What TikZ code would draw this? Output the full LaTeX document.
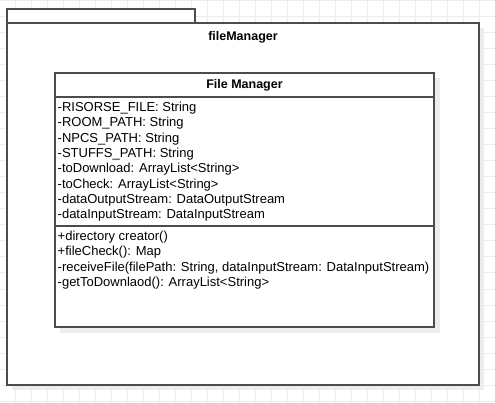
\documentclass[tikz,border=0pt]{standalone}
\usepackage{fontspec}
\setmainfont{Liberation Sans}
\usetikzlibrary{positioning}
\pgfdeclarelayer{gridlayer}
\pgfdeclarelayer{shadowlayer}
\pgfsetlayers{gridlayer, shadowlayer, main}

\tikzset{
  gridline/.style={draw=black!7, line width=1pt},
  shade box/.style={fill=black!7, draw=none},
  pkgbox/.style={draw=black!70, fill=white, line width=1.3pt, inner sep=0pt, outer sep=0pt},
  classbox/.style={draw=black!70, fill=white, line width=1.3pt, inner sep=0pt, outer sep=0pt, minimum width=379pt},
  member/.style={anchor=north west, align=left, inner sep=0pt, font=\fontsize{13}{15.3}\selectfont}
}

\begin{document}
\begin{tikzpicture}[x=1pt, y=-1pt]
    \useasboundingbox (0,0) rectangle (495,403);
	\begin{pgfonlayer}{gridlayer}
        \foreach \x in {15,31,...,495}
            \draw[gridline] (\x,0) -- (\x,403);
        \foreach \y in {1,17,...,403}
            \draw[gridline] (0,\y) -- (495,\y);
	\end{pgfonlayer}
	\begin{pgfonlayer}{shadowlayer}
        \fill[shade box] (12,28) rectangle (484,390);
	\end{pgfonlayer}
        % package fileManager
        \node[pkgbox, anchor=north west, minimum width=188pt, minimum height=14pt] (tab) at (7,9) {};
        \node[pkgbox, anchor=north west, minimum width=472pt, minimum height=362pt] (pkg) at (7,23) {};
        \node[font=\bfseries\fontsize{12.5}{14}\selectfont] (pkgname) at (243,37) {fileManager};
        % class File Manager
        \fill[shade box] (60,78) rectangle (440,333);
        \node[classbox, anchor=north west, minimum height=24pt] (head) at (55,73) {};
        \node[classbox, anchor=north, minimum height=129pt] (attrs) at (head.south) {};
        \node[classbox, anchor=north, minimum height=101pt] (ops) at (attrs.south) {};
        \node[font=\bfseries\fontsize{12.5}{14}\selectfont] (cname) at (head.center) {File Manager};
        \node[member, below right=5pt and 2.5pt of attrs.north west, anchor=north west] (attrtext) {%
            -RISORSE\_FILE: String\\
            -ROOM\_PATH: String\\
            -NPCS\_PATH: String\\
            -STUFFS\_PATH: String\\
            -toDownload: ArrayList<String>\\
            -toCheck: ArrayList<String>\\
            -dataOutputStream: DataOutputStream\\
            -dataInputStream: DataInputStream};
        \node[member, below right=5pt and 2.5pt of ops.north west, anchor=north west] (optext) {%
            +directory creator()\\
            +fileCheck(): Map\\
            -receiveFile(filePath: String, dataInputStream: DataInputStream)\\
            -getToDownlaod(): ArrayList<String>};
\end{tikzpicture}
\end{document}
